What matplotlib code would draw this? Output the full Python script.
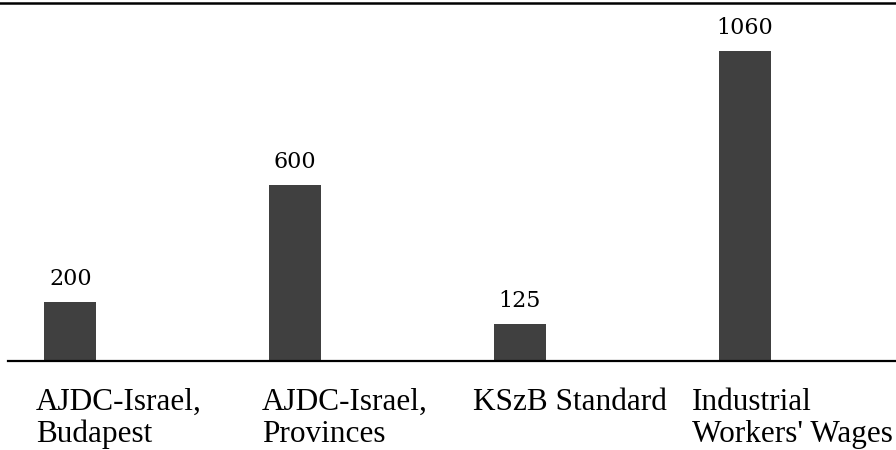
import matplotlib
matplotlib.use("Agg")
import matplotlib.pyplot as plt
from matplotlib.lines import Line2D

categories = ["AJDC-Israel,\nBudapest", "AJDC-Israel,\nProvinces", "KSzB Standard", "Industrial\nWorkers' Wages"]
values = [200, 600, 125, 1060]
value_labels = ["200", "600", "125", "1060"]

W, H = 896, 450
fig = plt.figure(figsize=(W / 100, H / 100), dpi=100)
ax = fig.add_axes([8 / W, (H - 360.5) / H, 1 - 8 / W, (360.5 - 3) / H])

x = list(range(len(values)))
ax.bar(x, values, width=0.23, color="#404040", zorder=2)
ax.set_xlim(-0.277, 3.6726)
ax.set_ylim(0, 1224)

for s in ["top", "left", "right"]:
    ax.spines[s].set_visible(False)
ax.spines["bottom"].set_linewidth(1.6)
ax.spines["bottom"].set_color("black")
ax.set_xticks([])
ax.set_yticks([])

for xi, v, lab in zip(x, values, value_labels):
    ax.annotate(lab, xy=(xi, v), xytext=(0, 17), textcoords="offset pixels",
                ha="center", va="baseline", fontsize=16, family="DejaVu Serif",
                color="black")

# category labels, left aligned
label_offsets = [-34.3, -33.5, -47.3, -52.8]
for xi, cat, off in zip(x, categories, label_offsets):
    ax.annotate(cat, xy=(xi, 0), xycoords=("data", "axes fraction"),
                xytext=(off, -27), textcoords="offset pixels",
                ha="left", va="top", fontsize=22.5, family="Liberation Serif",
                linespacing=1.15, color="black")

fig.add_artist(Line2D([0, 1], [(H - 3) / H, (H - 3) / H], transform=fig.transFigure,
                      color="black", linewidth=1.8))

fig.savefig("out.png", dpi=100)
